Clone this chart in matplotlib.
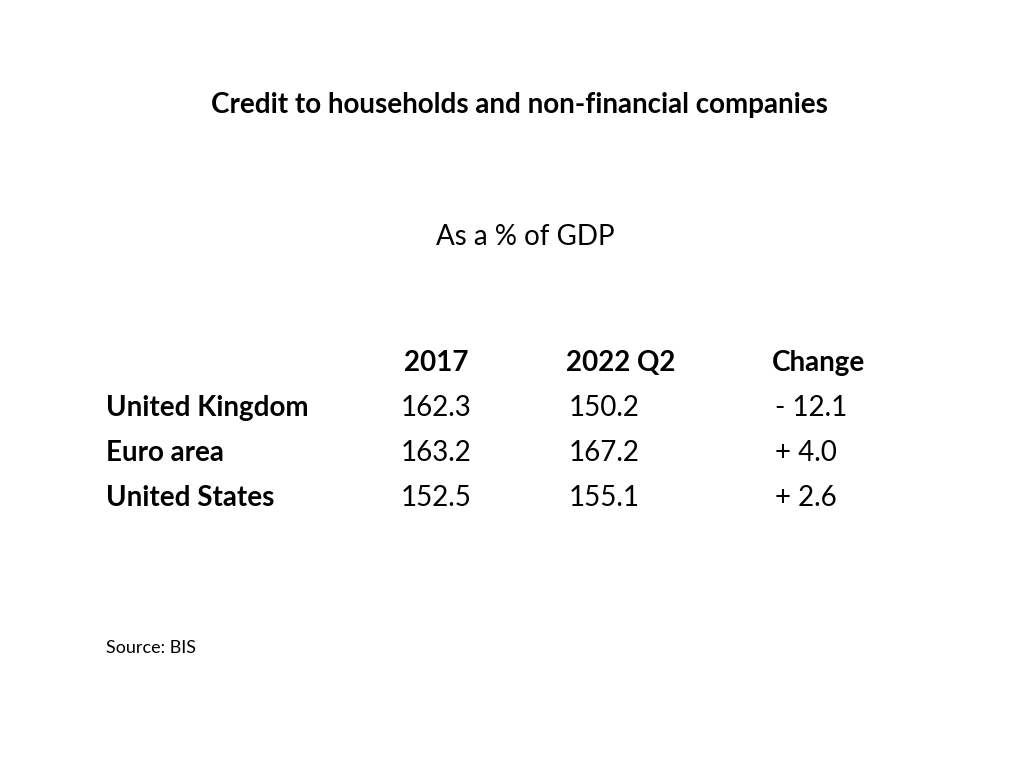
import matplotlib.pyplot as plt

title = "Credit to households and non-financial companies"
subtitle = "As a % of GDP"
columns = ["2017", "2022 Q2", "Change"]
countries = ["United Kingdom", "Euro area", "United States"]
values_2017 = ["162.3", "163.2", "152.5"]
values_2022 = ["150.2", "167.2", "155.1"]
changes = ["- 12.1", "+ 4.0", "+ 2.6"]
source = "Source: BIS"

W, H = 1024, 768
FONT = "Lato"

fig = plt.figure(figsize=(W / 100, H / 100), dpi=100)
fig.patch.set_facecolor("white")


def put(x, y, s, size=20, bold=False, ha="left"):
    fig.text(x / W, 1 - y / H, s, fontsize=size, fontfamily=FONT,
             fontweight="bold" if bold else "normal", ha=ha, va="center", color="black")


put(519, 105, title, bold=True, ha="center")
put(525, 237, subtitle, ha="center")

col_x = [404, 566, 772]
val_x = [401, 569, 775]
for x, c in zip(col_x, columns):
    put(x, 363, c, bold=True)

row_y = [408, 453, 498]
for y, name, a, b, d in zip(row_y, countries, values_2017, values_2022, changes):
    put(106, y, name, bold=True)
    put(val_x[0], y, a)
    put(val_x[1], y, b)
    put(val_x[2], y, d)

put(106, 648, source, size=13)

fig.savefig("out.png", dpi=100)
